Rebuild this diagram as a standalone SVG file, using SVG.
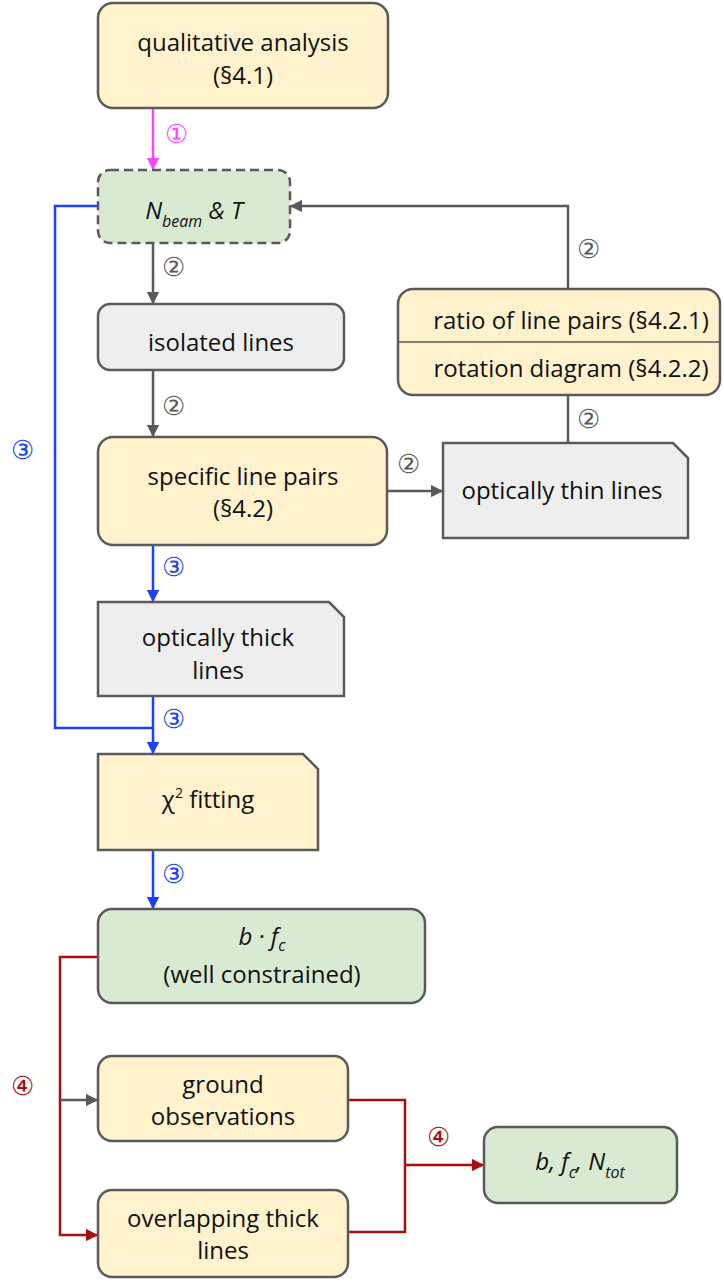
<svg xmlns="http://www.w3.org/2000/svg" width="724" height="1286" viewBox="0 0 724 1286">
<defs>
<style>
.box{stroke:#5a5a5a;stroke-width:2.5}
.y{fill:#fff2cc}.g{fill:#d9ead3}.l{fill:#eeeeee}
text{font-family:"Open Sans","Liberation Sans",sans-serif;font-size:24px;fill:#111;text-anchor:middle}
.it{font-style:italic}
.lbl{font-size:26px}
.c{fill:none;stroke-width:2.5}
.gr{stroke:#595959}.bl{stroke:#1a3fff}.mg{stroke:#ff44ff}.rd{stroke:#a50f0f}
</style>
<marker id="ag" viewBox="0 0 10 10" refX="9" refY="5" markerWidth="5" markerHeight="5" orient="auto" markerUnits="strokeWidth"><path d="M0,0L10,5L0,10z" fill="#595959"/></marker>
<marker id="ab" viewBox="0 0 10 10" refX="9" refY="5" markerWidth="5" markerHeight="5" orient="auto" markerUnits="strokeWidth"><path d="M0,0L10,5L0,10z" fill="#1a3fff"/></marker>
<marker id="am" viewBox="0 0 10 10" refX="9" refY="5" markerWidth="5" markerHeight="5" orient="auto" markerUnits="strokeWidth"><path d="M0,0L10,5L0,10z" fill="#ff44ff"/></marker>
<marker id="ar" viewBox="0 0 10 10" refX="9" refY="5" markerWidth="5" markerHeight="5" orient="auto" markerUnits="strokeWidth"><path d="M0,0L10,5L0,10z" fill="#a50f0f"/></marker>
</defs>
<rect width="724" height="1286" fill="#fff"/>
<g id="connectors">
<path class="c mg" d="M153,109V169" marker-end="url(#am)"/>
<path class="c gr" d="M153,244V303" marker-end="url(#ag)"/>
<path class="c gr" d="M153,371V436" marker-end="url(#ag)"/>
<path class="c bl" d="M153,546V601" marker-end="url(#ab)"/>
<path class="c bl" d="M153,697V753" marker-end="url(#ab)"/>
<path class="c bl" d="M97,206H55V728H153"/>
<path class="c bl" d="M153,851V908" marker-end="url(#ab)"/>
<path class="c gr" d="M388,491H442" marker-end="url(#ag)"/>
<path class="c gr" d="M568,443V396"/>
<path class="c gr" d="M568,289V206H291" marker-end="url(#ag)"/>
<path class="c rd" d="M97,957H60V1235H97" marker-end="url(#ar)"/>
<path class="c gr" d="M60,1100H97" marker-end="url(#ag)"/>
<path class="c rd" d="M349,1100H405V1232H349"/>
<path class="c rd" d="M405,1165H483" marker-end="url(#ar)"/>
<text class="lbl" x="176" y="143" style="fill:#ff44ff">①</text>
<text class="lbl" x="173" y="276" style="fill:#595959">②</text>
<text class="lbl" x="173" y="415" style="fill:#595959">②</text>
<text class="lbl" x="408" y="473" style="fill:#595959">②</text>
<text class="lbl" x="588" y="428" style="fill:#595959">②</text>
<text class="lbl" x="588" y="258" style="fill:#595959">②</text>
<text class="lbl" x="173" y="576" style="fill:#1a3fff">③</text>
<text class="lbl" x="173" y="728" style="fill:#1a3fff">③</text>
<text class="lbl" x="173" y="883" style="fill:#1a3fff">③</text>
<text class="lbl" x="22" y="459" style="fill:#1a3fff">③</text>
<text class="lbl" x="22" y="1095" style="fill:#a50f0f">④</text>
<text class="lbl" x="438" y="1146" style="fill:#a50f0f">④</text>
</g>
<g id="qualitative">
<rect class="box y" x="98" y="3" width="290" height="105" rx="15"/>
<text x="243" y="51">qualitative analysis</text>
<text x="243" y="84">(§4.1)</text>
</g>
<g id="nbeam">
<rect class="box g" x="98" y="170" width="192" height="73" rx="12" stroke-dasharray="9,5"/>
<text x="194" y="219" class="it">N<tspan font-size="16" dy="8">beam</tspan><tspan dy="-8"> &amp; T</tspan></text>
</g>
<g id="isolated">
<rect class="box l" x="98" y="304" width="246" height="66" rx="12"/>
<text x="221" y="351">isolated lines</text>
</g>
<g id="specific">
<rect class="box y" x="98" y="437" width="289" height="108" rx="15"/>
<text x="243" y="485">specific line pairs</text>
<text x="243" y="517">(§4.2)</text>
</g>
<g id="ratio">
<rect class="box y" x="398" y="289" width="322" height="106" rx="15"/>
<line x1="398" y1="342" x2="720" y2="342" stroke="#5a5a5a" stroke-width="1.5"/>
<text x="571" y="329">ratio of line pairs (§4.2.1)</text>
<text x="571" y="377">rotation diagram (§4.2.2)</text>
</g>
<g id="thin">
<path class="box l" d="M443,443H673L688,458V538H443Z"/>
<text x="562" y="499">optically thin lines</text>
</g>
<g id="thick">
<path class="box l" d="M98,602H329L344,617V696H98Z"/>
<text x="218" y="646">optically thick</text>
<text x="218" y="679">lines</text>
</g>
<g id="chi">
<path class="box y" d="M98,754H303L318,769V850H98Z"/>
<text x="208" y="808">χ<tspan font-size="14" dy="-10">2</tspan><tspan dy="10"> fitting</tspan></text>
</g>
<g id="bfc">
<rect class="box g" x="98" y="909" width="327" height="94" rx="14"/>
<text x="262" y="945" class="it">b · f<tspan font-size="16" dy="6">c</tspan></text>
<text x="262" y="983">(well constrained)</text>
</g>
<g id="ground">
<rect class="box y" x="98" y="1056" width="250" height="85" rx="14"/>
<text x="223" y="1093">ground</text>
<text x="223" y="1125">observations</text>
</g>
<g id="overlapping">
<rect class="box y" x="98" y="1190" width="250" height="87" rx="14"/>
<text x="223" y="1227">overlapping thick</text>
<text x="223" y="1259">lines</text>
</g>
<g id="result">
<rect class="box g" x="484" y="1127" width="193" height="76" rx="14"/>
<text x="580" y="1170" class="it">b, f<tspan font-size="16" dy="8">c</tspan><tspan dy="-8">, N</tspan><tspan font-size="16" dy="8">tot</tspan></text>
</g>
</svg>
